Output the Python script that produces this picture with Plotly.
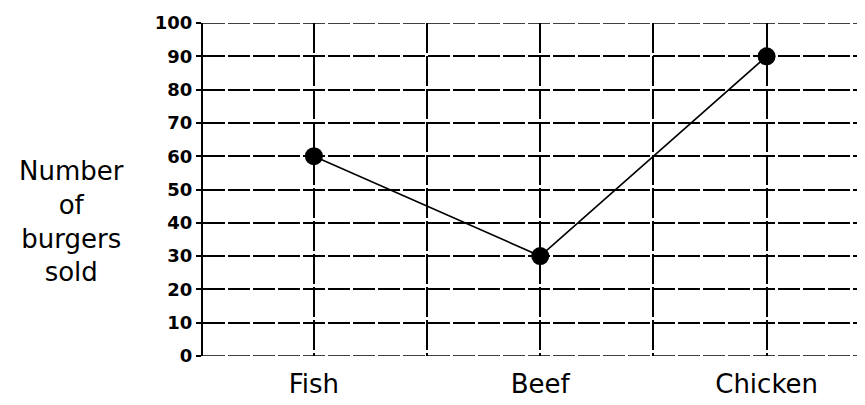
import plotly.graph_objects as go

categories = ["Fish", "Beef", "Chicken"]
burgers_sold = [60, 30, 90]
y_ticks = [0, 10, 20, 30, 40, 50, 60, 70, 80, 90, 100]

x_pos = list(range(len(categories)))
mid_pos = [i + 0.5 for i in range(len(categories) - 1)]

fig = go.Figure()
fig.add_trace(go.Scatter(
    x=x_pos, y=burgers_sold,
    mode="lines+markers",
    line=dict(color="black", width=1.6),
    marker=dict(color="black", size=18),
    showlegend=False,
    hoverinfo="skip",
))

# the edge grid lines (0 and 100) that plotly drops at the plot border
edge_lines = [dict(type="line", xref="paper", yref="y",
                   x0=0, x1=1, y0=v, y1=v,
                   line=dict(color="black", width=1.5, dash="22px,3px"),
                   layer="below")
              for v in (y_ticks[0], y_ticks[-1])]

fig.update_layout(
    width=865, height=405,
    margin=dict(l=195, r=0, t=15, b=57),
    paper_bgcolor="white", plot_bgcolor="white",
    font=dict(family="DejaVu Sans", color="black"),
    shapes=edge_lines,
    xaxis=dict(
        range=[-0.49, 2.47],
        tickmode="array", tickvals=x_pos, ticktext=categories,
        tickfont=dict(size=26, family="DejaVu Sans", color="black"),
        ticks="", ticklabelstandoff=10,
        showline=False, zeroline=False,
        showgrid=True, gridcolor="black", gridwidth=1.5, griddash="30px,3px",
        minor=dict(tickmode="array", tickvals=mid_pos, showgrid=True,
                   gridcolor="black", gridwidth=1.5, griddash="30px,3px", ticks=""),
        fixedrange=True,
    ),
    yaxis=dict(
        range=[0, 100],
        tickmode="array", tickvals=y_ticks,
        tickfont=dict(size=18, family="DejaVu Sans", color="black", weight="bold"),
        ticks="outside", ticklen=5, tickwidth=1.5, tickcolor="black",
        ticklabelstandoff=0,
        showline=True, linecolor="black", linewidth=2,
        zeroline=False,
        showgrid=True, gridcolor="black", gridwidth=1.5, griddash="22px,3px",
        fixedrange=True,
    ),
    annotations=[dict(
        text="Number<br>of<br>burgers<br>sold",
        xref="paper", yref="paper",
        x=-0.197, y=0.405, xanchor="center", yanchor="middle",
        showarrow=False, align="center",
        font=dict(size=26, family="DejaVu Sans", color="black"),
    )],
)

fig.write_html("out.html")
